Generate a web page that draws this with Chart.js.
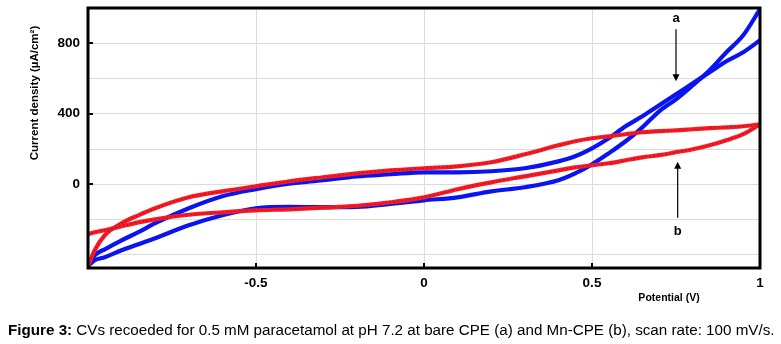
<!DOCTYPE html>
<html>
<head>
<meta charset="utf-8">
<script src="https://cdn.jsdelivr.net/npm/chart.js@4.4.1/dist/chart.umd.min.js"></script>
<style>
  body { margin: 0; background: #fff; }
  #wrap { position: relative; width: 781px; height: 344px; }
  #caption { position: absolute; left: 8px; top: 321px; font: 15.2px "Liberation Sans", Arial, sans-serif; white-space: nowrap; color: #000; }
</style>
</head>
<body>
<div id="wrap">
  <canvas id="cvChart" width="781" height="344"></canvas>
  <div id="caption"><b>Figure 3:</b> CVs recoeded for 0.5 mM paracetamol at pH 7.2 at bare CPE (a) and Mn-CPE (b), scan rate: 100 mV/s.</div>
</div>
<script>
// potential grid (V) shared by all branches
const potential = [-1, -0.98, -0.95, -0.9, -0.85, -0.8, -0.7, -0.6, -0.5, -0.4, -0.3, -0.2, -0.1, 0,
  0.1, 0.2, 0.3, 0.4, 0.45, 0.5, 0.55, 0.6, 0.65, 0.7, 0.75, 0.8, 0.85, 0.9, 0.95, 1];

// bare CPE (a), current density in uA/cm2
const bareUpper = [-465, -403, -369, -318, -272, -221, -136, -68, -28, 3, 23, 45, 57, 68,
  68, 74, 91, 130, 159, 204, 261, 329, 386, 448, 511, 573, 635, 698, 749, 817];
const bareLower = [-465, -431, -414, -374, -340, -306, -233, -176, -136, -128, -130, -128, -111, -91,
  -74, -40, -17, 23, 62, 113, 176, 244, 323, 414, 482, 562, 647, 749, 845, 993];

// Mn-CPE (b)
const mnUpper = [-465, -374, -289, -221, -176, -136, -74, -40, -11, 17, 40, 62, 79, 91,
  102, 125, 170, 221, 244, 261, 272, 284, 295, 301, 306, 312, 318, 323, 329, 340];
const mnLower = [-284, -272, -261, -238, -216, -199, -173, -159, -148, -142, -133, -122, -102, -74,
  -28, 11, 45, 79, 96, 108, 119, 136, 153, 165, 182, 199, 221, 250, 284, 340];

const xTickValues = [-1, -0.5, 0, 0.5, 1];
const yTickValues = [-400, -200, 0, 200, 400, 600, 800];
const yLabelled = [0, 400, 800];
const xLabelled = [-0.5, 0, 0.5];

// curve labels with their pointer arrows
const markers = [
  { text: 'a', v: 0.75, labelI: 940, fromI: 880, toI: 585 },
  { text: 'b', v: 0.755, labelI: -268, fromI: -190, toI: 128 }
];

function toPoints(ys) {
  return potential.map((v, i) => ({ x: v, y: ys[i] }));
}

function curve(ys, color, width) {
  return {
    data: toPoints(ys),
    showLine: true,
    borderColor: color,
    borderWidth: width,
    pointRadius: 0,
    cubicInterpolationMode: 'monotone'
  };
}

// thin dotted core on the red traces
function dotted(ys) {
  const d = curve(ys, 'rgba(110,20,140,0.7)', 1.3);
  d.borderDash = [1.5, 2.5];
  return d;
}

const framePlugin = {
  id: 'frame',
  afterDatasetsDraw(chart) {
    const { ctx, chartArea: a, scales: { x, y } } = chart;
    ctx.save();
    ctx.strokeStyle = '#000';
    ctx.fillStyle = '#000';
    ctx.lineWidth = 3;
    ctx.strokeRect(a.left, a.top, a.right - a.left, a.bottom - a.top);

    ctx.lineWidth = 2;
    ctx.beginPath();
    yLabelled.forEach(v => {
      const py = Math.round(y.getPixelForValue(v));
      ctx.moveTo(a.left, py);
      ctx.lineTo(a.left + 5, py);
    });
    xLabelled.forEach(v => {
      const px = Math.round(x.getPixelForValue(v));
      ctx.moveTo(px, a.bottom);
      ctx.lineTo(px, a.bottom - 5);
    });
    ctx.stroke();

    // a / b labels with arrows
    ctx.lineWidth = 1.2;
    ctx.font = 'bold 13px "Liberation Sans", Arial, sans-serif';
    ctx.textAlign = 'center';
    ctx.textBaseline = 'middle';
    markers.forEach(m => {
      const px = x.getPixelForValue(m.v);
      const y0 = y.getPixelForValue(m.fromI);
      const y1 = y.getPixelForValue(m.toI);
      ctx.fillText(m.text, px, y.getPixelForValue(m.labelI));
      const dir = y1 > y0 ? 1 : -1;
      ctx.beginPath();
      ctx.moveTo(px, y0);
      ctx.lineTo(px, y1 - dir * 6);
      ctx.stroke();
      ctx.beginPath();
      ctx.moveTo(px, y1);
      ctx.lineTo(px - 3.5, y1 - dir * 7);
      ctx.lineTo(px + 3.5, y1 - dir * 7);
      ctx.closePath();
      ctx.fill();
    });

    // axis titles
    ctx.font = 'bold 10.5px "Liberation Sans", Arial, sans-serif';
    ctx.fillText('Potential (V)', 669, 298);
    ctx.font = 'bold 11.5px "Liberation Sans", Arial, sans-serif';
    ctx.translate(35, 93);
    ctx.rotate(-Math.PI / 2);
    ctx.fillText('Current density (\u00b5A/cm\u00b2)', 0, 0);
    ctx.restore();
  }
};

const tickFont = { family: '"Liberation Sans", Arial, sans-serif', size: 13.5, weight: 'bold' };

new Chart(document.getElementById('cvChart').getContext('2d'), {
  type: 'scatter',
  data: {
    datasets: [
      dotted(mnUpper),
      dotted(mnLower),
      curve(mnUpper, '#ff1a1a', 4.2),
      curve(mnLower, '#ff1a1a', 4.2),
      curve(bareUpper, '#0a14f0', 4.2),
      curve(bareLower, '#0a14f0', 4.2)
    ]
  },
  options: {
    responsive: false,
    animation: false,
    layout: { padding: { left: 0, right: 21, top: 8, bottom: 0 } },
    plugins: { legend: { display: false }, tooltip: { enabled: false } },
    scales: {
      x: {
        type: 'linear',
        min: -1,
        max: 1,
        afterFit(scale) { scale.height = 76; },
        afterBuildTicks(scale) { scale.ticks = xTickValues.map(v => ({ value: v })); },
        grid: { color: '#dcdcdc', drawTicks: false },
        border: { display: false },
        ticks: {
          padding: 7,
          color: '#000',
          font: tickFont,
          maxRotation: 0,
          callback: v => (v === -1 ? '' : String(v))
        }
      },
      y: {
        type: 'linear',
        min: -475,
        max: 1000,
        afterFit(scale) {
          scale.width = 88;
          scale.paddingTop = 0;
          scale.paddingBottom = 0;
        },
        afterBuildTicks(scale) { scale.ticks = yTickValues.map(v => ({ value: v })); },
        grid: { color: '#dcdcdc', drawTicks: false },
        border: { display: false },
        ticks: {
          padding: 8,
          color: '#000',
          font: tickFont,
          callback: v => (yLabelled.includes(v) ? String(v) : '')
        }
      }
    }
  },
  plugins: [framePlugin]
});
</script>
</body>
</html>
